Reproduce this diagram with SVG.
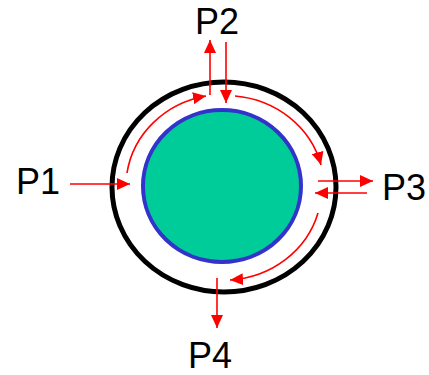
<svg xmlns="http://www.w3.org/2000/svg" width="429" height="375" viewBox="0 0 429 375">
<style>
.lbl{font-family:"Liberation Sans",Arial,sans-serif;font-size:36px;fill:#000}
.c{fill:none;stroke:#ff0000;stroke-width:1.6}
</style>
<defs>
<marker id="ah" markerUnits="userSpaceOnUse" markerWidth="14" markerHeight="12" refX="13" refY="6" orient="auto">
<path d="M0,0 L13,6 L0,12 Z" fill="#ff0000"/>
</marker>
</defs>
<rect width="429" height="375" fill="#fff"/>
<g id="outer"><ellipse cx="224" cy="187" rx="112" ry="105" fill="none" stroke="#000" stroke-width="5"/></g>
<g id="core"><ellipse cx="222" cy="186" rx="79" ry="76" fill="#00cc99" stroke="#3333cc" stroke-width="4"/></g>
<g id="labels">
<text id="P1" class="lbl" x="16" y="194">P1</text>
<text id="P2" class="lbl" x="195" y="34">P2</text>
<text id="P3" class="lbl" x="382" y="200">P3</text>
<text id="P4" class="lbl" x="188" y="368">P4</text>
</g>
<g id="connectors">
<path class="c" marker-end="url(#ah)" d="M70,184 L130,184"/>
<path class="c" marker-end="url(#ah)" d="M210,95 L210,40"/>
<path class="c" marker-end="url(#ah)" d="M226,42 L226,103"/>
<path class="c" marker-end="url(#ah)" d="M318,181 L373,181"/>
<path class="c" marker-end="url(#ah)" d="M367,193 L315,193"/>
<path class="c" marker-end="url(#ah)" d="M217,278 L217,328"/>
<path class="c" marker-end="url(#ah)" d="M127,173 A98 92 0 0 1 206,96"/>
<path class="c" marker-end="url(#ah)" d="M235,96 A98 92 0 0 1 321,165"/>
<path class="c" marker-end="url(#ah)" d="M318,213 A98 92 0 0 1 230,280"/>
</g>
</svg>
